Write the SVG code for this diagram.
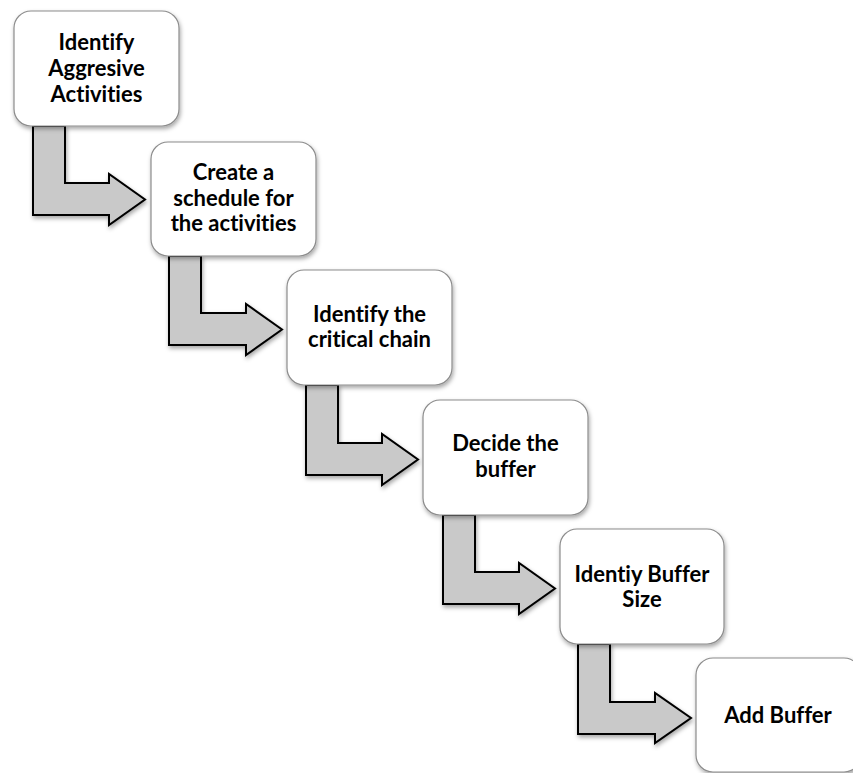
<svg xmlns="http://www.w3.org/2000/svg" width="853" height="773" viewBox="0 0 853 773">
  <defs>
    <filter id="sh" x="-10%" y="-10%" width="125%" height="130%">
      <feDropShadow dx="1" dy="2.5" stdDeviation="2" flood-color="#000" flood-opacity="0.35"/>
    </filter>
  </defs>
  <style>
    .box { fill: #ffffff; stroke: #8c8c8c; stroke-width: 1.2; filter: url(#sh); }
    .arr { fill: #c9c9c9; stroke: #000000; stroke-width: 2; stroke-linejoin: miter; filter: url(#sh); }
    .lbl { font-family: Lato, "Open Sans", "Liberation Sans", sans-serif; font-weight: bold; font-size: 22px; fill: #000; text-anchor: middle; font-variant-ligatures: none; }
  </style>
  <rect width="853" height="773" fill="#ffffff"/>

  <g id="connectors">
    <path class="arr" d="M33,126 H65 V183 H109 V174 L145,199.5 L109,225 V215 H33 Z"/>
    <path class="arr" d="M169,256 H201 V313 H246 V304 L282,329.5 L246,355 V345 H169 Z"/>
    <path class="arr" d="M306,385 H338 V443 H382 V434 L418,459.5 L382,485 V475 H306 Z"/>
    <path class="arr" d="M443,515 H475 V572 H519 V563 L555,588.5 L519,614 V604 H443 Z"/>
    <path class="arr" d="M578,644 H610 V702 H655 V693 L691,718 L655,743 V734 H578 Z"/>
  </g>

  <g id="n1">
    <rect class="box" x="14" y="11" width="165" height="115" rx="17"/>
    <text class="lbl" x="96.5" y="50">Identify</text>
    <text class="lbl" x="96.5" y="76">Aggresive</text>
    <text class="lbl" x="96.5" y="102">Activities</text>
  </g>
  <g id="n2">
    <rect class="box" x="151" y="142" width="165" height="114" rx="17"/>
    <text class="lbl" x="233.5" y="180">Create a</text>
    <text class="lbl" x="233.5" y="206">schedule for</text>
    <text class="lbl" x="233.5" y="231">the activities</text>
  </g>
  <g id="n3">
    <rect class="box" x="287" y="270" width="165" height="115" rx="17"/>
    <text class="lbl" x="369.5" y="322">Identify the</text>
    <text class="lbl" x="369.5" y="347">critical chain</text>
  </g>
  <g id="n4">
    <rect class="box" x="423" y="400" width="165" height="115" rx="17"/>
    <text class="lbl" x="505.5" y="451">Decide the</text>
    <text class="lbl" x="505.5" y="477">buffer</text>
  </g>
  <g id="n5">
    <rect class="box" x="560" y="529" width="164" height="115" rx="17"/>
    <text class="lbl" x="642" y="582">Identiy Buffer</text>
    <text class="lbl" x="642" y="607">Size</text>
  </g>
  <g id="n6">
    <rect class="box" x="696" y="658" width="165" height="114" rx="17"/>
    <text class="lbl" x="778" y="723">Add Buffer</text>
  </g>
</svg>
